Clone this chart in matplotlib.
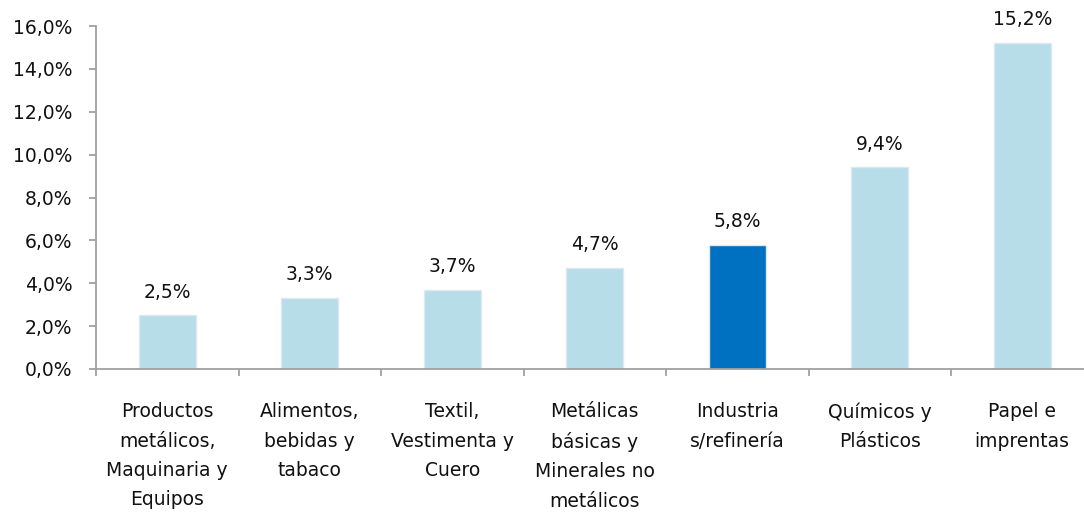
import matplotlib.pyplot as plt
import numpy as np
from matplotlib.ticker import FuncFormatter, MultipleLocator

categories = [
    "Productos\nmetálicos,\nMaquinaria y\nEquipos",
    "Alimentos,\nbebidas y\ntabaco",
    "Textil,\nVestimenta y\nCuero",
    "Metálicas\nbásicas y\nMinerales no\nmetálicos",
    "Industria\ns/refinería",
    "Químicos y\nPlásticos",
    "Papel e\nimprentas",
]
values = [2.5, 3.3, 3.7, 4.7, 5.8, 9.4, 15.2]
highlight = "Industria\ns/refinería"

light = "#b7dde8"
dark = "#0070c0"
axis_grey = "#a0a0a0"

plt.rcParams["font.family"] = "DejaVu Sans"

fig = plt.figure(figsize=(10.84, 5.19), dpi=100)
# the category axis runs slightly past the right edge in the original
ax = fig.add_axes([96 / 1084, 150 / 519, 997.5 / 1084, 343 / 519])

x = np.arange(len(categories))
colors = [dark if c == highlight else light for c in categories]
ax.bar(x, values, width=0.4, color=colors, edgecolor="#dde8f3", linewidth=1.0)

for xi, v in zip(x, values):
    ax.annotate(f"{v:.1f}%".replace(".", ","), (xi, v), xytext=(0, 10),
                textcoords="offset points", ha="center", va="bottom",
                fontsize=13.5, color="#111111")

ax.set_xlim(-0.5, len(categories) - 0.5)
ax.set_ylim(0, 16)
ax.yaxis.set_major_locator(MultipleLocator(2))
ax.yaxis.set_major_formatter(FuncFormatter(lambda v, _: f"{v:.1f}%".replace(".", ",")))

ax.set_xticks(x)
ax.set_xticklabels(categories, fontsize=13.5, linespacing=1.68, color="#111111")
ax.set_xticks(np.arange(len(categories) + 1) - 0.5, minor=True)
ax.tick_params(axis="x", which="major", length=0, pad=24)
ax.tick_params(axis="x", which="minor", length=5, width=1.3, color=axis_grey)
ax.tick_params(axis="y", length=5, width=1.3, color=axis_grey, labelsize=13.5,
               labelcolor="#111111", pad=12)

for side in ["top", "right"]:
    ax.spines[side].set_visible(False)
for side in ["left", "bottom"]:
    ax.spines[side].set_color(axis_grey)
    ax.spines[side].set_linewidth(1.3)

fig.savefig("out.png", dpi=100)
